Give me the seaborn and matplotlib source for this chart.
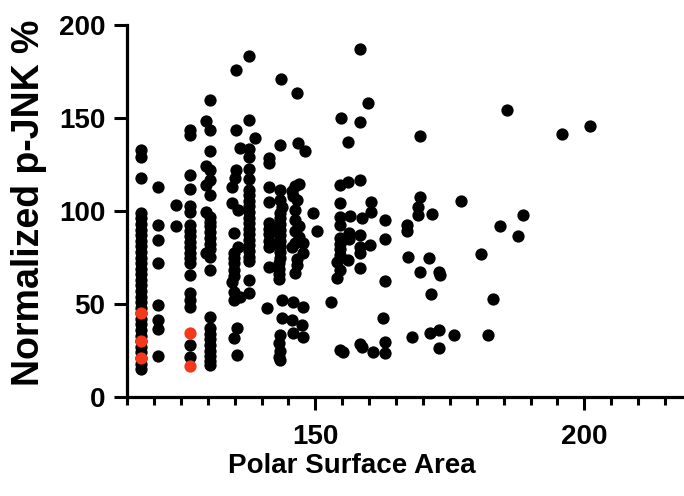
import matplotlib
matplotlib.use("Agg")
import matplotlib.pyplot as plt
from matplotlib.ticker import MultipleLocator
import pandas as pd
import seaborn as sns

sns.set_style("ticks")
plt.rcParams["font.family"] = ["Liberation Sans", "DejaVu Sans"]
plt.rcParams["font.weight"] = "bold"
plt.rcParams["text.color"] = "black"
plt.rcParams["axes.labelcolor"] = "black"
plt.rcParams["xtick.color"] = "black"
plt.rcParams["ytick.color"] = "black"

# Compounds with low polar surface area (PSA < 132)
psa_low = ([117.6] * 32 + [120.8] * 8 + [124.1] * 2 + [126.7] * 20
           + [130.4, 129.6, 130.4, 130.4, 129.6, 130.4, 130.4, 129.6, 130.4, 129.6,
              130.4, 130.4, 130.4, 130.4, 130.4, 130.4, 130.4, 129.6, 130.4, 130.4,
              130.4, 130.4, 130.4, 130.4, 130.4, 130.4, 130.4, 130.4, 130.4])
jnk_low = ([133, 129, 118, 99, 96, 93, 90, 87, 84, 81, 78, 75, 72, 69, 66, 63,
            60, 57, 54, 51, 48, 45, 42, 39, 36, 33, 30, 27, 24, 21, 18, 15]
           + [113, 92.6, 84.5, 72.3, 49.5, 41.6, 36.4, 22.3]
           + [103, 92]
           + [143.7, 141, 119.5, 111.8, 102.8, 99.2, 92.6, 89.5, 86.5, 83.5,
              80.5, 77.5, 74.5, 72, 65.7, 56, 52, 48.6, 28, 21.7]
           + [159.5, 148.2, 143.7, 132, 124.3, 122.2, 116.8, 114.1, 108.7, 99.7,
              97, 94, 91.7, 88.5, 85.5, 82.5, 79.5, 77.3, 75.5, 68.4,
              42.9, 37, 34, 31, 28, 25, 22, 19.5, 17.2])

# Compounds with PSA between 132 and 150
psa_mid = [135.3, 135.3, 136.0, 135.3, 135.1, 134.5, 134.5, 135.7, 134.8, 135.6,
           134.8, 134.8, 134.8, 134.8, 134.8, 134.5, 134.8, 134.8, 136.0, 135.4,
           134.8, 135.4,
           137.7, 137.7, 138.8, 137.7, 137.7, 137.7, 137.7, 137.7, 137.7, 137.7,
           137.7, 137.7, 137.7, 137.7, 137.7, 137.7, 137.7, 137.7, 137.7, 137.7,
           137.7, 137.7, 137.7,
           141.3, 141.3, 141.3, 141.3, 141.3, 141.3, 141.3, 141.3, 141.3, 141.3,
           141.0,
           143.6, 143.4, 143.4, 143.8, 143.4, 143.4, 143.4, 143.4, 143.4, 143.4,
           143.4, 143.4, 143.4, 143.4, 143.2, 143.2, 143.2, 143.2, 143.8, 143.8,
           143.4, 143.2, 143.4, 143.2, 143.4,
           146.5, 146.8, 148.1, 146.2, 147.0, 145.6, 145.9, 146.6, 146.2, 146.2,
           147.0, 146.2, 147.0, 146.2, 145.6, 147.7, 147.7, 146.6, 146.6, 146.2,
           145.9, 147.7, 145.6, 147.5, 145.9, 147.7,
           149.6, 150.3]
jnk_mid = [176, 143.5, 133.8, 122.2, 117.7, 112.8, 104.2, 100.6, 88, 80.9,
           77.5, 75, 72, 68.4, 65, 62, 56.7, 52.2, 54, 37,
           31.5, 22.6,
           183.5, 149, 139.2, 133.2, 129.3, 122.5, 117.1, 111.4, 108.5, 105.5,
           102.5, 99.5, 96.5, 93.5, 90.5, 87.5, 84.5, 81.5, 78.5, 75.5,
           73, 63, 56,
           128.4, 125.7, 112.8, 104.6, 93.6, 90.5, 87.5, 84, 80.7, 70.1,
           47.7,
           171.1, 135.5, 111.4, 102.4, 106, 99, 96, 93, 90, 87,
           84, 81, 78, 75, 72, 69, 66, 63.5, 52.2, 42.4,
           33.4, 28.9, 25, 21.7, 19.9,
           163.4, 136.5, 132, 113.2, 114.6, 111, 107.8, 106, 100.6, 95,
           92, 89, 86, 83, 80.9, 82.8, 77.5, 74, 71, 66.6,
           51.3, 48.6, 41.4, 38.8, 34.3, 32.5,
           99, 89]

# Compounds with PSA above 150
psa_high = [152.9,
            154.8, 156.1, 154.6, 156.0, 154.6, 154.6, 154.6, 156.4, 154.6, 154.6,
            154.6, 154.6, 156.3, 156.3, 154.0, 156.1, 154.6, 154.0, 154.6, 155.2,
            158.3, 158.3, 158.3, 158.6, 158.3, 158.3, 158.3, 158.3, 158.3, 158.6,
            159.7, 160.4, 160.4, 160.2, 160.8,
            163.0, 163.0, 163.0, 162.6, 163.0, 163.0,
            167.0, 167.0, 167.3, 167.9, 169.5, 169.5, 169.0, 169.0, 169.5,
            171.2, 171.6, 171.5, 171.4, 172.9, 173.2, 172.9, 172.9,
            175.8, 177.1, 180.7, 182.0, 183.1, 184.3, 185.6, 187.7, 188.5,
            195.8, 201.1]
jnk_high = [50.9,
            149.9, 137.1, 114.1, 115.5, 104.4, 97, 92.6, 97.5, 85.6, 82.5,
            79.5, 76.4, 88.3, 85, 72.8, 73.7, 68.4, 63.8, 25.3, 24.4,
            187.1, 147.7, 116.4, 96.2, 87.2, 80.9, 77.3, 69.3, 28.5, 27.1,
            158, 104.6, 99.5, 81.8, 24.4,
            95, 84.8, 62.4, 42.7, 29.8, 23.5,
            92.6, 89, 75.5, 32.1, 140.1, 107.3, 102.4, 98, 67.4,
            74.6, 98.4, 55.5, 34.3, 67.4, 65.7, 35.9, 26.6,
            33.4, 105.5, 77, 33.4, 52.7, 92, 154.5, 86.3, 97.6,
            141.5, 145.5]

# Highlighted compounds
psa_red = [117.6, 117.6, 117.6, 126.7, 126.7]
jnk_red = [45.4, 30.3, 20.8, 34.4, 16.8]

df = pd.DataFrame({"psa": psa_low + psa_mid + psa_high,
                   "jnk": jnk_low + jnk_mid + jnk_high})
df_red = pd.DataFrame({"psa": psa_red, "jnk": jnk_red})

fig = plt.figure(figsize=(6.84, 4.96), dpi=100)
ax = fig.add_axes([127 / 684, 99 / 496, 565 / 684, 372 / 496])

sns.scatterplot(data=df, x="psa", y="jnk", color="black", s=78,
                linewidth=0, ax=ax, zorder=3)
sns.scatterplot(data=df_red, x="psa", y="jnk", color="#f4381b", s=78,
                linewidth=0, ax=ax, zorder=4)

ax.set_xlim(115, 220)
ax.set_ylim(0, 200)
ax.set_xticks([150, 200])
ax.xaxis.set_minor_locator(MultipleLocator(5))
ax.set_yticks([0, 50, 100, 150, 200])

for side in ("top", "right"):
    ax.spines[side].set_visible(False)
for side in ("left", "bottom"):
    ax.spines[side].set_linewidth(2.3)
    ax.spines[side].set_color("black")

ax.tick_params(axis="both", which="major", length=9.5, width=2.2,
               labelsize=20, colors="black")
ax.tick_params(axis="y", which="major", pad=6)
ax.tick_params(axis="x", which="major", pad=10)
ax.tick_params(axis="x", which="minor", length=5.5, width=2.2, colors="black")
for lab in ax.get_xticklabels() + ax.get_yticklabels():
    lab.set_fontweight("bold")

ax.set_xlabel("Polar Surface Area", fontsize=20, fontweight="bold",
              color="black")
ax.set_ylabel("Normalized p-JNK %", fontsize=27, fontweight="bold",
              color="black")
ax.xaxis.set_label_coords((352 - 127) / 565, -(453 - 397) / 372)
ax.yaxis.set_label_coords(-(127 - 47) / 565, 0.523)

fig.savefig("out.png", dpi=100)
